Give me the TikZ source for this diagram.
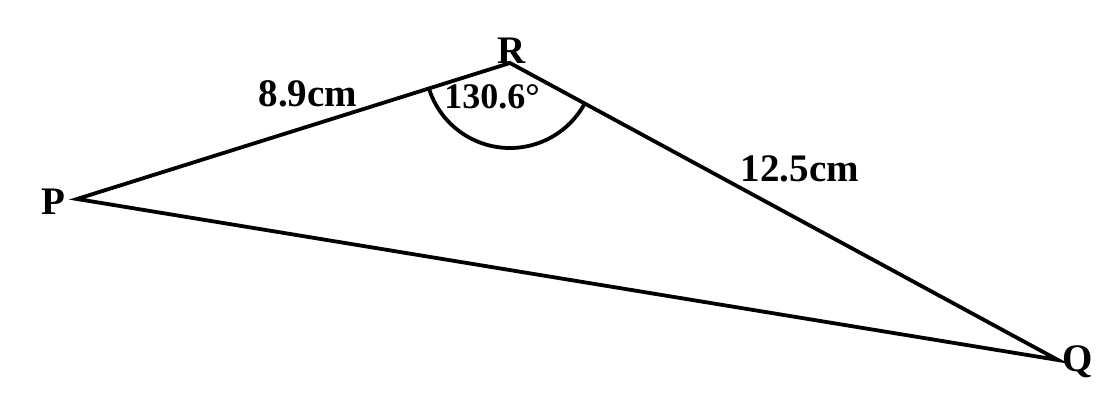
\documentclass[tikz,border=0pt]{standalone}
\usepackage{fontspec}
\setmainfont{Liberation Serif}
\begin{document}
\begin{tikzpicture}[x=1pt,y=1pt,
  edge/.style={line width=3.8pt,line join=miter},
  lbl/.style={font=\fontsize{39}{39}\selectfont\bfseries,inner sep=0pt}]
\useasboundingbox (0,0) rectangle (1109,-408);
\coordinate (P) at (77,-199);
\coordinate (R) at (510,-63);
\coordinate (Q) at (1058,-360);
\draw[edge] (P) -- (R) -- (Q) -- cycle;
\draw[edge] ([shift={(197.4:85pt)}]R) arc[start angle=197.4,end angle=331.5,radius=85pt];
\node[lbl] (lP) at (53,-202) {P};
\node[lbl] (lR) at (512,-51) {R};
\node[lbl] (lQ) at (1078,-362) {Q};
\node[lbl] (a) at (308,-94) {8.9cm};
\node[lbl,font=\fontsize{36}{36}\selectfont\bfseries] (b) at (492,-97) {130.6°};
\node[lbl] (c) at (800,-169) {12.5cm};
\end{tikzpicture}
\end{document}
